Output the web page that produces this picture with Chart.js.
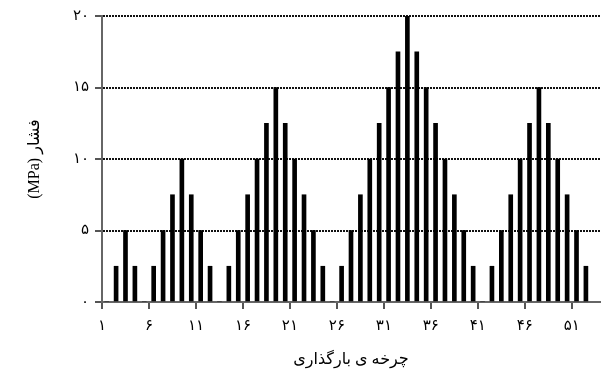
<!DOCTYPE html>
<html>
<head>
<meta charset="utf-8">
<script src="https://cdn.jsdelivr.net/npm/chart.js@4/dist/chart.umd.min.js"></script>
<style>
  html, body { margin: 0; padding: 0; background: #fff; }
  #wrap { width: 602px; height: 369px; }
</style>
</head>
<body>
<div id="wrap"><canvas id="chart" width="602" height="369"></canvas></div>
<script>
// Loading cycles and the pressure applied in each cycle (MPa)
const cycles = [
  1, 2, 3, 4, 5, 6, 7, 8, 9, 10, 11, 12, 13,
  14, 15, 16, 17, 18, 19, 20, 21, 22, 23, 24, 25, 26,
  27, 28, 29, 30, 31, 32, 33, 34, 35, 36, 37, 38, 39,
  40, 41, 42, 43, 44, 45, 46, 47, 48, 49, 50, 51, 52
];
const pressure = [
  0, 2.5, 5, 2.5, 0, 2.5, 5, 7.5, 10, 7.5, 5, 2.5, 0,
  2.5, 5, 7.5, 10, 12.5, 15, 12.5, 10, 7.5, 5, 2.5, 0, 2.5,
  5, 7.5, 10, 12.5, 15, 17.5, 20, 17.5, 15, 12.5, 10, 7.5, 5,
  2.5, 0, 2.5, 5, 7.5, 10, 12.5, 15, 12.5, 10, 7.5, 5, 2.5
];

// Axis ticks and their Persian labels
const xTickValues = [1, 6, 11, 16, 21, 26, 31, 36, 41, 46, 51];
const xTickLabels = ['۱', '۶', '۱۱', '۱۶', '۲۱', '۲۶', '۳۱', '۳۶', '۴۱', '۴۶', '۵۱'];
const yTickValues = [0, 5, 10, 15, 20];
const yTickLabels = ['۰', '۵', '۱۰', '۱۵', '۲۰'];

const xTitle = 'چرخه ی بارگذاری';
const yTitle = '(MPa) فشار';

const FONT = "'Liberation Serif', 'DejaVu Sans', serif";

// each cycle's bar sits in the middle of its interval on the axis
const points = cycles.map((c, i) => ({ x: c + 0.5, y: pressure[i] }));

new Chart(document.getElementById('chart'), {
  type: 'bar',
  data: {
    datasets: [{
      data: points,
      backgroundColor: '#000',
      borderWidth: 0,
      barThickness: 4
    }]
  },
  options: {
    responsive: false,
    animation: false,
    events: [],
    layout: { padding: { top: 16, right: 2, left: 0, bottom: 0 } },
    plugins: { legend: { display: false }, tooltip: { enabled: false } },
    scales: {
      x: {
        type: 'linear',
        offset: false,
        min: 1,
        max: 54,
        afterBuildTicks: s => { s.ticks = xTickValues.map(v => ({ value: v })); },
        afterFit: s => { s.height = 67; },
        ticks: {
          autoSkip: false,
          maxRotation: 0,
          color: '#000',
          padding: 8,
          font: { family: FONT, size: 15 },
          callback: v => xTickLabels[xTickValues.indexOf(v)]
        },
        grid: { offset: false, drawOnChartArea: false, drawTicks: true, tickLength: 7, color: '#555', lineWidth: 2 },
        border: { display: true, color: '#666', width: 2 },
        title: {
          display: true,
          text: xTitle,
          color: '#000',
          font: { family: FONT, size: 16 },
          padding: { top: 2, bottom: 0 }
        }
      },
      y: {
        min: 0,
        max: 20,
        afterBuildTicks: s => { s.ticks = yTickValues.map(v => ({ value: v })); },
        afterFit: s => { s.width = 102; },
        ticks: {
          color: '#000',
          padding: 6,
          font: { family: FONT, size: 15 },
          callback: v => yTickLabels[yTickValues.indexOf(v)]
        },
        grid: {
          drawTicks: true,
          tickLength: 7,
          lineWidth: 2,
          color: ctx => (ctx.tick && ctx.tick.value === 0) ? 'rgba(0,0,0,0)' : '#111',
          tickColor: '#555',
          tickBorderDash: []
        },
        border: { display: true, color: '#666', width: 2, dash: [2, 1] },
        title: {
          display: true,
          text: yTitle,
          color: '#000',
          font: { family: FONT, size: 16 },
          padding: { top: 25, bottom: 0 }
        }
      }
    }
  }
});
</script>
</body>
</html>
